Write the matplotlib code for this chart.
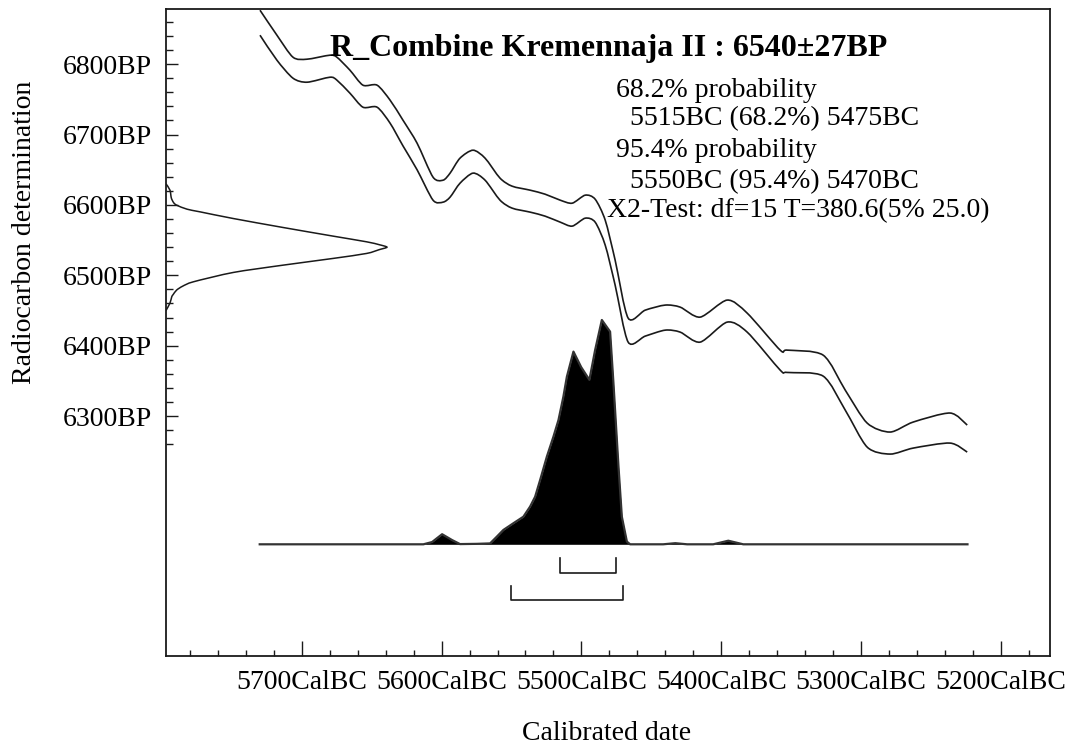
import matplotlib
matplotlib.use("Agg")
import matplotlib.pyplot as plt
import numpy as np
from matplotlib.path import Path
from matplotlib.patches import PathPatch
from matplotlib.ticker import FixedLocator, FixedFormatter

plt.rcParams['font.family'] = ['Liberation Serif', 'DejaVu Serif']
plt.rcParams['lines.solid_joinstyle'] = 'round'

# ---------------- data ----------------
# calibration curve, upper and lower band (years BC, radiocarbon BP)
curve_bc = [5729.8, 5717.7, 5706.2, 5696.2, 5679.8, 5674.8, 5665.5, 5656.2, 5646.1,
            5636.8, 5627.6, 5617.5, 5606.1, 5598.9, 5593.9, 5586.8, 5577.5, 5568.9,
            5558.2, 5549.6, 5536.7, 5526.0, 5515.2, 5506.6, 5497.3, 5490.2, 5483.0,
            5475.9, 5466.6, 5454.4, 5440.1, 5429.4, 5415.1, 5395.8, 5381.5, 5357.9,
            5352.9, 5327.2, 5311.4, 5295.7, 5279.3, 5262.8, 5236.4, 5224.2]
curve_upper_bp = [6876.7, 6841.2, 6809.9, 6807.1, 6812.8, 6809.9, 6791.5, 6770.2, 6770.2,
                  6748.9, 6720.5, 6687.8, 6639.5, 6635.2, 6645.2, 6666.5, 6677.8, 6666.5,
                  6638.1, 6626.7, 6621.0, 6615.3, 6606.8, 6602.5, 6613.9, 6608.2, 6578.4,
                  6521.6, 6439.2, 6450.5, 6457.7, 6454.8, 6440.6, 6464.8, 6446.3, 6393.7,
                  6393.7, 6386.6, 6336.9, 6290.0, 6277.3, 6291.5, 6304.3, 6287.2]
curve_lower_bp = [6841.2, 6805.7, 6780.1, 6774.4, 6781.5, 6777.3, 6758.8, 6738.9, 6738.9,
                  6716.2, 6684.0, 6650.0, 6606.8, 6604.0, 6611.1, 6630.9, 6645.2, 6635.2,
                  6606.8, 6595.5, 6589.8, 6584.1, 6575.6, 6569.9, 6581.2, 6575.6, 6542.9,
                  6486.1, 6405.1, 6413.6, 6422.1, 6419.3, 6405.1, 6433.5, 6419.3, 6365.3,
                  6362.0, 6356.8, 6308.5, 6255.9, 6246.0, 6254.5, 6261.6, 6248.8]

# radiocarbon measurement distribution (BP, relative probability)
c14_bp = [6630, 6621.0, 6610.0, 6603.5, 6599.7, 6594.0, 6590.2, 6580.8, 6568.0, 6555.7,
          6547.6, 6543.5, 6540.0, 6536.5, 6531.1, 6524.0, 6514.5, 6504.1, 6490.8,
          6484.5, 6479.0, 6472.5, 6469.5, 6460.6, 6450]
c14_prob = [0.0, 0.018, 0.024, 0.034, 0.048, 0.095, 0.154, 0.303, 0.529, 0.756,
            0.908, 0.965, 1.0, 0.965, 0.908, 0.756, 0.531, 0.305, 0.124,
            0.075, 0.048, 0.032, 0.026, 0.018, 0.0]

# calibrated date distribution (years BC, relative probability)
cal_bc = [5730.0, 5613.0, 5606.8, 5599.6, 5592.5, 5586.8, 5575.0, 5565.3, 5560.5,
          5555.8, 5548.6, 5541.5, 5536.7, 5533.1, 5529.5, 5524.7, 5520.0, 5516.4,
          5512.9, 5510.4, 5505.7, 5500.2, 5494.3, 5490.2, 5485.4, 5479.5, 5477.1,
          5473.5, 5471.1, 5467.5, 5465.2, 5441.6, 5432.9, 5424.4, 5405.8, 5395.0,
          5384.3, 5224.0]
cal_prob = [0.0, 0.0, 0.010, 0.045, 0.019, 0.001, 0.002, 0.004, 0.034,
            0.064, 0.094, 0.123, 0.168, 0.212, 0.287, 0.391, 0.480, 0.554,
            0.658, 0.747, 0.859, 0.790, 0.733, 0.866, 1.0, 0.948, 0.718,
            0.346, 0.123, 0.012, 0.0, 0.0, 0.005, 0.0, 0.0, 0.016,
            0.0, 0.0]

# highest probability ranges (BC)
range68 = (5515, 5475)
range95 = (5550, 5470)

x_major = [5700, 5600, 5500, 5400, 5300, 5200]
x_labels = [f"{v}CalBC" for v in x_major]
x_minor = [v for v in range(5780, 5179, -20) if v % 100 != 0]
y_major = [6300, 6400, 6500, 6600, 6700, 6800]
y_labels = [f"{v}BP" for v in y_major]
y_minor = [v for v in range(6260, 6861, 20) if v % 100 != 0]

title = "R_Combine Kremennaja II : 6540\u00b127BP"
info_lines = ["68.2% probability", "  5515BC (68.2%) 5475BC",
              "95.4% probability", "  5550BC (95.4%) 5470BC",
              "X2-Test: df=15 T=380.6(5% 25.0)"]


def smooth_path(xs, ys):
    """Curved (Bezier) path style passing through every given point."""
    p = np.column_stack([xs, ys]).astype(float)
    n = len(p)
    verts = [p[0]]
    codes = [Path.MOVETO]
    for i in range(n - 1):
        p0 = p[i - 1] if i > 0 else p[i]
        p1, p2 = p[i], p[i + 1]
        p3 = p[i + 2] if i + 2 < n else p[i + 1]
        c1 = p1 + (p2 - p0) / 6.0 * 0.8
        c2 = p2 - (p3 - p1) / 6.0 * 0.8
        verts += [c1, c2, p2]
        codes += [Path.CURVE4] * 3
    return Path(verts, codes)


# ---------------- figure ----------------
W, H = 1067, 746
fig = plt.figure(figsize=(W / 100, H / 100), dpi=100)
L, R, T, B = 166, 1050, 9.3, 655.7
ax = fig.add_axes([L / W, 1 - B / H, (R - L) / W, (B - T) / H])

ink = '#1a1a1a'
for band in (curve_upper_bp, curve_lower_bp):
    ax.add_patch(PathPatch(smooth_path(curve_bc, band), facecolor='none',
                           edgecolor=ink, lw=1.2))

ax.set_xlim(5797, 5165)
ax.set_ylim(5959.5, 6878)

ax.xaxis.set_major_locator(FixedLocator(x_major))
ax.xaxis.set_major_formatter(FixedFormatter(x_labels))
ax.xaxis.set_minor_locator(FixedLocator(x_minor))
ax.yaxis.set_major_locator(FixedLocator(y_major))
ax.yaxis.set_major_formatter(FixedFormatter(y_labels))
ax.yaxis.set_minor_locator(FixedLocator(y_minor))

ax.tick_params(axis='x', which='major', direction='in', length=11, width=1.0,
               color=ink, labelsize=20, pad=10)
ax.tick_params(axis='x', which='minor', direction='in', length=4.5, width=1.0, color=ink)
ax.tick_params(axis='y', which='major', direction='in', length=8.5, width=1.0,
               color=ink, labelsize=20, pad=10)
ax.tick_params(axis='y', which='minor', direction='in', length=5, width=1.0, color=ink)
for s in ax.spines.values():
    s.set_color(ink)
    s.set_linewidth(1.3)

# calibrated distribution on its own probability scale
axp = ax.twinx()
axp.fill_between(cal_bc, 0, cal_prob, color='black', lw=0)
axp.plot(cal_bc, cal_prob, color='#333333', lw=1.6)
axp.set_ylim(-0.4966, 2.385)
axp.axis('off')
# ranges
for (a, b), yb in [(range68, -0.127), (range95, -0.249)]:
    axp.plot([a, a, b, b], [yb + 0.064, yb, yb, yb + 0.064], color=ink, lw=1.2)

# radiocarbon measurement distribution from the left axis
axc = ax.twiny()
axc.add_patch(PathPatch(smooth_path(c14_prob, c14_bp), facecolor='none',
                        edgecolor=ink, lw=1.1))
axc.set_xlim(0, 4.0)
axc.axis('off')

# ---------------- texts ----------------
fig.text(330 / W, 1 - 56 / H, title, fontsize=23, fontweight='bold', ha='left',
         va='baseline', color='black')
xs = [616, 616, 616, 616, 607.3]
bases = [96.7, 125, 156.7, 188.3, 216.7]
for s, x, yb in zip(info_lines, xs, bases):
    fig.text(x / W, 1 - yb / H, s, fontsize=20, ha='left', va='baseline', color='black')

fig.text(25 / W, 1 - 232 / H, "Radiocarbon determination", rotation=90, fontsize=20,
         ha='center', va='center')
fig.text(607 / W, 1 - 733 / H, "Calibrated date", fontsize=20, ha='center', va='center')

fig.savefig("out.png", dpi=100)
